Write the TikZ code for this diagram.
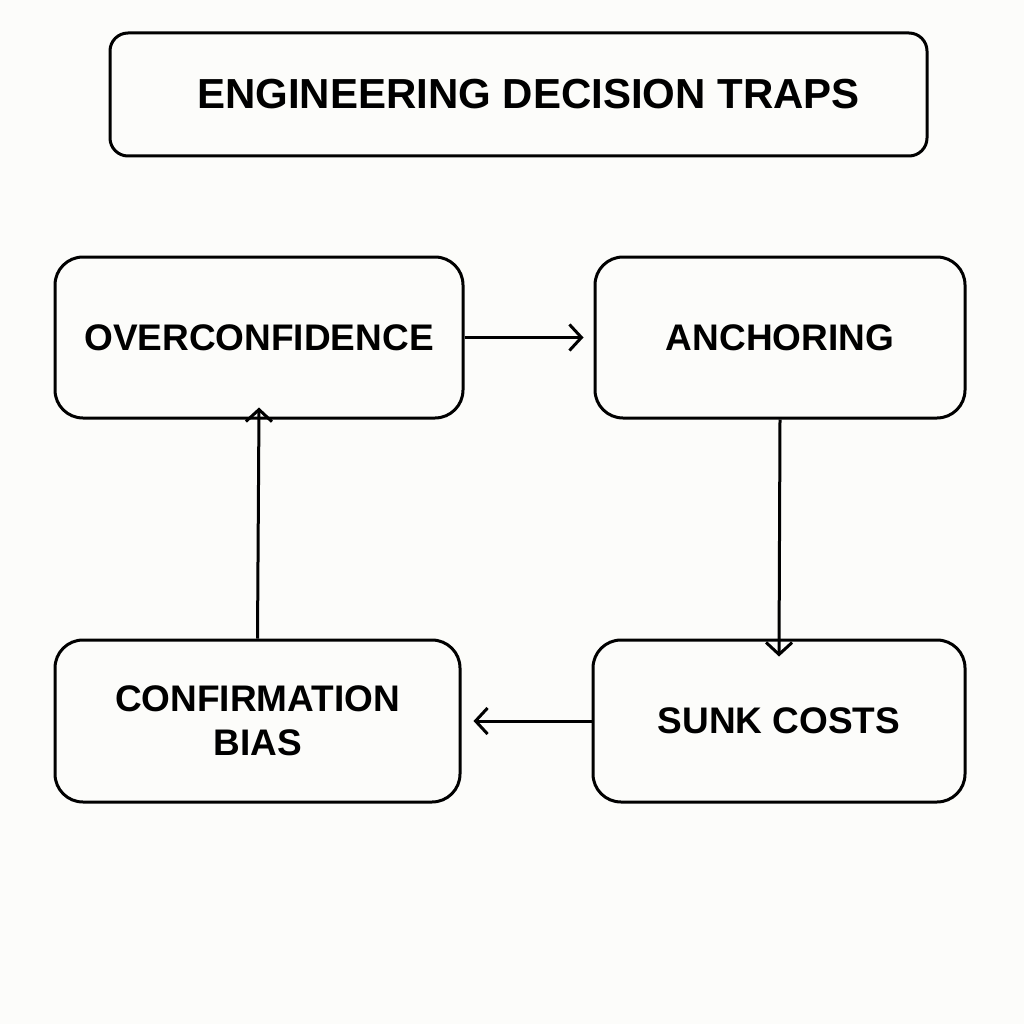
\documentclass[tikz,border=0pt]{standalone}
\usepackage{fontspec}
\setmainfont{Liberation Sans}
\usetikzlibrary{arrows.meta}
\definecolor{bg}{HTML}{FCFCFA}
\begin{document}
\begin{tikzpicture}[x=1pt,y=-1pt,
 box/.style={draw=black,line width=3pt,rounded corners=28pt,align=center,inner sep=0pt,font=\fontsize{37}{44}\selectfont\bfseries},
 arr/.style={line width=3pt,-{Straight Barb[length=12pt,width=26pt,line width=3pt]}}]
\fill[bg] (0,0) rectangle (1024,1024);
\useasboundingbox (0,0) rectangle (1024,1024);
\node[box,rounded corners=18pt,minimum width=817pt,minimum height=123pt,font=\fontsize{42}{48}\selectfont\bfseries] (t) at (518.5,94.5) {\hspace*{20pt}ENGINEERING DECISION TRAPS};
\node[box,minimum width=408pt,minimum height=161pt] (o) at (259,337.5) {OVERCONFIDENCE};
\node[box,minimum width=370pt,minimum height=161pt] (a) at (780,337.5) {ANCHORING};
\node[box,minimum width=405pt,minimum height=162pt] (c) at (257.5,721) {CONFIRMATION\\BIAS};
\node[box,minimum width=372pt,minimum height=162pt] (s) at (779,721) {SUNK COSTS};
\draw[arr] (o.east) -- ([xshift=-10pt]a.west);
\draw[arr] (a.south) -- ([yshift=-18pt]s.north);
\draw[arr] (s.west) -- ([xshift=12pt]c.east);
\draw[arr] (c.north) -- ([yshift=12pt]o.south);
\end{tikzpicture}
\end{document}
